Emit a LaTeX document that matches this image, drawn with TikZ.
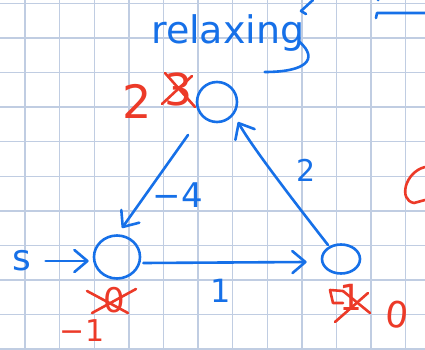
\documentclass[tikz,border=0pt]{standalone}
\usepackage{fontspec}
\setmainfont{DejaVu Sans}
\usetikzlibrary{arrows.meta,shapes.geometric,calc}
\definecolor{ink}{RGB}{22,112,232}
\definecolor{redink}{RGB}{236,58,40}
\definecolor{gridc}{RGB}{192,205,226}
\begin{document}
\begin{tikzpicture}[x=1pt,y=-1pt,
  pen/.style={ink,line width=2.6pt,line cap=round,line join=round},
  rpen/.style={redink,line width=2.6pt,line cap=round,line join=round},
  vertex/.style={ellipse,draw=ink,line width=2.6pt,inner sep=0pt},
  lbl/.style={inner sep=0pt,text=ink},
  rlbl/.style={inner sep=0pt,text=redink},
  arr/.style={pen,-{Straight Barb[length=13pt,width=22pt,line width=2.6pt,round]}},
  gridline/.style={gridc,line width=1.4pt}
]
\useasboundingbox (0,0) rectangle (425,350);
\fill[white] (0,0) rectangle (425,350);
\foreach \i in {0,...,11} \draw[gridline] ({25+34.6*\i},0) -- ({25+34.6*\i},350);
\foreach \j in {0,...,10} \draw[gridline] (0,{3.5+34.55*\j}) -- (425,{3.5+34.55*\j});

% heading
\node[lbl,anchor=base west,font=\fontsize{38}{38}\selectfont] (word) at (151,44) {relaxing};
\draw[pen] ($(word.base east)+(-5,-2)$) .. controls ($(word.base east)+(14,15)$) and ($(word.base east)+(2,28)$) .. ($(word.base east)+(-40,28)$);
\draw[pen] (313,0) -- (301,11) -- (306,14);
\draw[pen] (376,18) -- (377,13) -- (425,13);
\fill[ink] (378,0) circle (1.5);

% vertices
\node[vertex,minimum width=40pt,minimum height=40pt] (T) at (217,102) {};
\node[vertex,minimum width=46pt,minimum height=43pt] (L) at (117,257) {};
\node[vertex,minimum width=38pt,minimum height=29pt] (R) at (341,259) {};
\node[lbl,font=\fontsize{36}{36}\selectfont] (S) at (22,261) {s};

% edges
\draw[arr,shorten <=14pt,shorten >=4pt] (S.east) -- (L.west |- S.east);
\draw[arr] ($(L.east)+(2,6)$) -- ($(R.west)+(-14,3)$);
\draw[arr] ($(T)+(-29,33)$) -- ($(L)+(5,-29)$);
\draw[arr] ($(R)+(-13,-14)$) .. controls ($(R)+(-45,-55)$) and ($(T)+(35,45)$) .. ($(T)+(21,20)$);

% edge weights
\node[lbl,font=\fontsize{34}{34}\selectfont] (w4) at (178,195) {−4};
\node[lbl,font=\fontsize{32}{32}\selectfont] (w1) at (221,291) {1};
\node[lbl,font=\fontsize{30}{30}\selectfont] (w2) at (306,170) {2};

% distances (red)
\node[rlbl,font=\fontsize{46}{46}\selectfont] (dT) at (137,101) {2};
\node[rlbl,font=\fontsize{44}{44}\selectfont] (oT) at (178,89) {3};
\draw[rpen] (165,73) -- (195,107);
\draw[rpen] (162,104) -- (192,76);

\node[rlbl,font=\fontsize{34}{34}\selectfont] (oL) at (114,300) {0};
\draw[rpen] (87,291) -- (128,313);
\draw[rpen] (92,313) -- (136,289);
\node[rlbl,font=\fontsize{30}{30}\selectfont] (dL) at (82,331) {−1};

\node[rlbl,font=\fontsize{36}{36}\selectfont] (oR) at (351,297) {1};
\draw[rpen] (335,322) -- (368,293);
\draw[rpen] (343,291) -- (370,313);
\draw[rpen] (343,291) -- (330,290) -- (333,303) -- (343,303);
\node[rlbl,font=\fontsize{36}{36}\selectfont,rotate=-6] (dR) at (397,315) {0};

\draw[rpen] (425,167) .. controls (405,172) and (398,200) .. (414,203) -- (425,200);
\end{tikzpicture}
\end{document}
